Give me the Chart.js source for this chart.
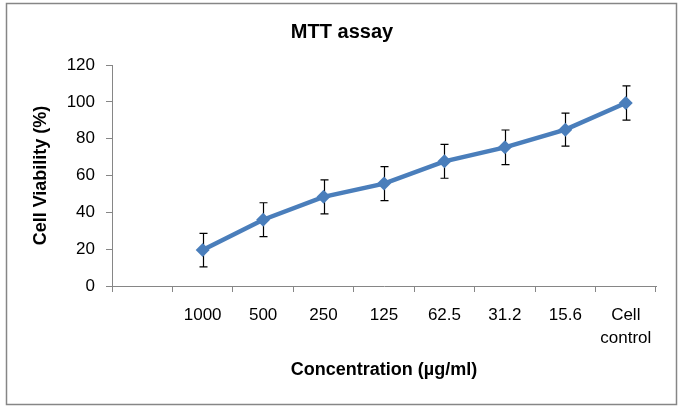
<!DOCTYPE html>
<html>
<head>
<meta charset="utf-8">
<script src="https://cdn.jsdelivr.net/npm/chart.js@4/dist/chart.umd.min.js"></script>
<style>
  body { margin: 0; background: #fff; }
  #wrap { width: 684px; height: 409px; }
</style>
</head>
<body>
<div id="wrap"><canvas id="mttChart" width="684" height="409"></canvas></div>
<script>
// concentrations (µg/ml), first slot is left empty like the original sheet
var concentrations = ['', '1000', '500', '250', '125', '62.5', '31.2', '15.6', ['Cell', 'control']];
var viability = [null, 19.5, 36, 48.4, 55.6, 67.7, 75.3, 84.9, 99.4];
var viabilityErr = [null, 9.1, 9.2, 9.2, 9.2, 9.2, 9.4, 9.0, 9.3];
var yTicks = [0, 20, 40, 60, 80, 100, 120];
var chartTitle = 'MTT assay';

var fontFamily = 'Arial, "Liberation Sans", sans-serif';
var axisGrey = '#868686';

// draws the +/- error bars behind the line, using the chart's own scales
var errorBars = {
    id: 'errorBars',
    beforeDatasetsDraw: function(chart) {
        var c = chart.ctx;
        var meta = chart.getDatasetMeta(0);
        var yScale = chart.scales.y;
        c.save();
        c.strokeStyle = '#000';
        c.lineWidth = 1.2;
        meta.data.forEach(function(pt, i) {
            var v = viability[i], e = viabilityErr[i];
            if (v == null || e == null) return;
            var x = Math.round(pt.x) + 0.5;
            var top = yScale.getPixelForValue(v + e);
            var bot = yScale.getPixelForValue(v - e);
            c.beginPath();
            c.moveTo(x, top); c.lineTo(x, bot);
            c.moveTo(x - 4, top); c.lineTo(x + 4, top);
            c.moveTo(x - 4, bot); c.lineTo(x + 4, bot);
            c.stroke();
        });
        c.restore();
    }
};

// grey frame around the whole chart + title centred on the frame
var frame = {
    id: 'frame',
    beforeDraw: function(chart) {
        var c = chart.ctx;
        c.save();
        c.fillStyle = '#fff';
        c.fillRect(0, 0, chart.width, chart.height);
        c.strokeStyle = axisGrey;
        c.lineWidth = 1.5;
        c.strokeRect(6.5, 3.5, 670, 401);
        c.fillStyle = '#000';
        c.font = 'bold 20px ' + fontFamily;
        c.textAlign = 'center';
        c.textBaseline = 'middle';
        c.fillText(chartTitle, 342, 32);
        c.restore();
    }
};

var ctx = document.getElementById('mttChart').getContext('2d');
var chart = new Chart(ctx, {
    type: 'line',
    data: {
        labels: concentrations,
        datasets: [{
            label: 'Cell Viability',
            data: viability,
            borderColor: '#4a7ebb',
            backgroundColor: '#4a7ebb',
            borderWidth: 4.5,
            pointStyle: 'rectRot',
            pointRadius: 7,
            pointBorderWidth: 0,
            tension: 0,
            fill: false
        }]
    },
    options: {
        responsive: false,
        animation: false,
        devicePixelRatio: 1,
        layout: { padding: { left: 0, right: 28, top: 65, bottom: 0 } },
        plugins: {
            legend: { display: false },
            tooltip: { enabled: false },
            title: { display: false }
        },
        scales: {
            x: {
                type: 'category',
                offset: true,
                afterFit: function(s) { s.height = 123; },
                grid: {
                    offset: true,
                    drawOnChartArea: false,
                    drawTicks: true,
                    tickLength: 6,
                    color: axisGrey
                },
                border: { color: axisGrey, width: 1 },
                ticks: {
                    color: '#000',
                    padding: 12,
                    maxRotation: 0,
                    autoSkip: false,
                    font: { family: fontFamily, size: 17, lineHeight: 1.35 }
                },
                title: {
                    display: true,
                    text: 'Concentration (µg/ml)',
                    color: '#000',
                    font: { family: fontFamily, size: 18, weight: 'bold' },
                    padding: { top: 0, bottom: 28 }
                }
            },
            y: {
                min: 0,
                max: 120,
                afterFit: function(s) { s.width = 112; },
                afterBuildTicks: function(s) {
                    s.ticks = yTicks.map(function(v) { return { value: v }; });
                },
                grid: {
                    drawOnChartArea: false,
                    drawTicks: true,
                    tickLength: 6,
                    color: axisGrey
                },
                border: { color: axisGrey, width: 1 },
                ticks: {
                    color: '#000',
                    padding: 11,
                    font: { family: fontFamily, size: 17 }
                },
                title: {
                    display: true,
                    text: 'Cell Viability (%)',
                    color: '#000',
                    font: { family: fontFamily, size: 18, weight: 'bold' },
                    padding: { top: 30, bottom: 0 }
                }
            }
        }
    },
    plugins: [frame, errorBars]
});
</script>
</body>
</html>
